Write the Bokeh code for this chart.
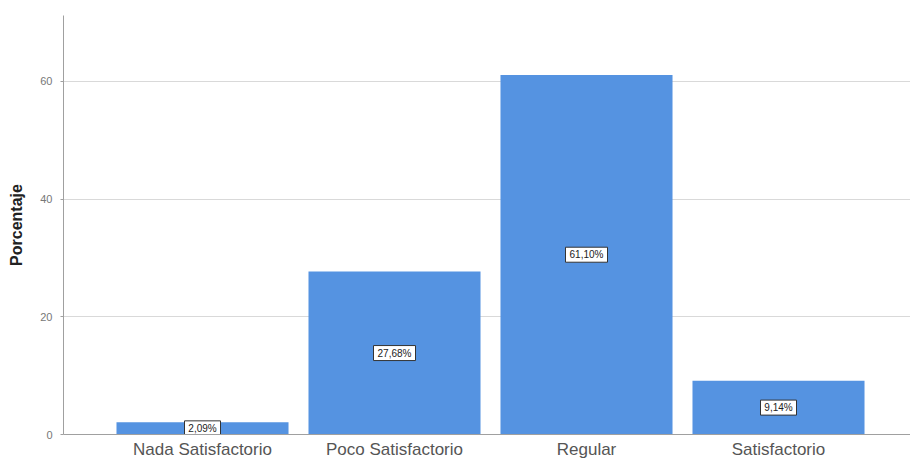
from bokeh.plotting import figure
from bokeh.models import ColumnDataSource, Range1d, FixedTicker
from bokeh.core.properties import value
from bokeh.embed import file_html
from bokeh.resources import INLINE

categories = ["Nada Satisfactorio", "Poco Satisfactorio", "Regular", "Satisfactorio"]
values = [2.09, 27.68, 61.10, 9.14]
value_labels = ["2,09%", "27,68%", "61,10%", "9,14%"]
y_ticks = [0, 20, 40, 60]

xs = list(range(1, len(categories) + 1))
src = ColumnDataSource(dict(
    x=xs,
    top=values,
    mid=[v / 2 for v in values],
    lab=value_labels,
    boxw=[6 * len(s) + 6 for s in value_labels],
))

p = figure(width=910, height=461, output_backend="svg", toolbar_location=None,
           x_range=Range1d(0.276, 4.6875), y_range=Range1d(0, 71.2))
p.min_border_left = 63
p.min_border_top = 15
p.min_border_bottom = 26
p.min_border_right = 0
p.outline_line_color = None
p.background_fill_color = "white"

p.vbar(x="x", top="top", width=0.896, source=src, fill_color="#5593e1", line_color=None)

p.rect(x="x", y="mid", width="boxw", height=15, width_units="screen", height_units="screen",
       source=src, fill_color="white", line_color="#333333", line_width=1)
p.text(x="x", y="mid", text="lab", source=src, text_align="center",
       text_baseline="middle", text_font=value("Liberation Sans"),
       text_font_size="10px", text_color="#222222")

p.xgrid.grid_line_color = None
p.ygrid.grid_line_color = "#d9d9d9"
p.ygrid.ticker = FixedTicker(ticks=[20, 40, 60])

p.xaxis.ticker = FixedTicker(ticks=xs)
p.xaxis.major_label_overrides = {x: c for x, c in zip(xs, categories)}
p.xaxis.major_tick_line_color = None
p.xaxis.major_tick_out = 0
p.xaxis.minor_tick_line_color = None
p.xaxis.axis_line_color = "#a0a0a0"
p.xaxis.major_label_text_font = "Liberation Sans"
p.xaxis.major_label_text_font_size = "17px"
p.xaxis.major_label_text_color = "#555555"
p.xaxis.major_label_standoff = 5

p.yaxis.ticker = FixedTicker(ticks=y_ticks)
p.yaxis.minor_tick_line_color = None
p.yaxis.major_tick_line_color = "#a0a0a0"
p.yaxis.major_tick_out = 3
p.yaxis.major_tick_in = 0
p.yaxis.axis_line_color = "#a0a0a0"
p.yaxis.major_label_text_font = "Liberation Sans"
p.yaxis.major_label_text_font_size = "11px"
p.yaxis.major_label_text_color = "#777777"
p.yaxis.major_label_standoff = 8
p.yaxis.axis_label = "Porcentaje"
p.yaxis.axis_label_text_font = "Liberation Sans"
p.yaxis.axis_label_text_font_style = "bold"
p.yaxis.axis_label_text_font_size = "16px"
p.yaxis.axis_label_text_color = "#222222"
p.yaxis.axis_label_standoff = 12

open("out.html", "w").write(file_html(p, INLINE))
